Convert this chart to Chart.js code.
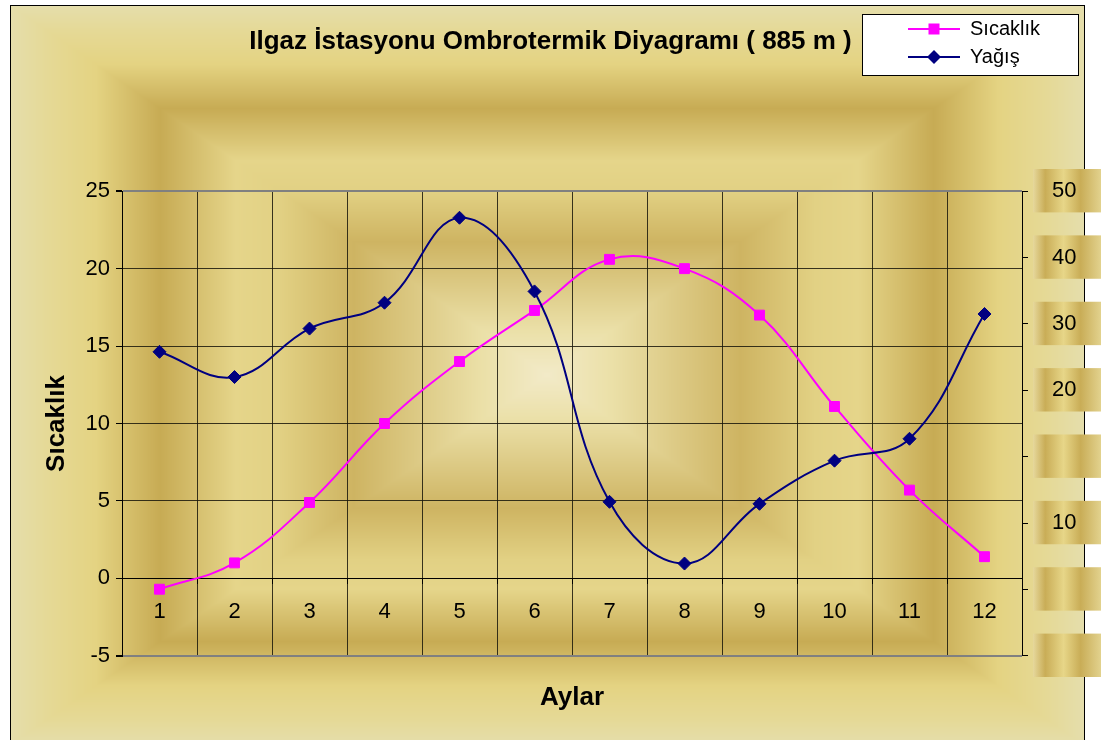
<!DOCTYPE html>
<html><head><meta charset="utf-8">
<script src="https://cdn.jsdelivr.net/npm/chart.js@4/dist/chart.umd.min.js"></script>
<style>html,body{margin:0;padding:0;background:#fff}#wrap{width:1101px;height:740px;position:relative}</style>
</head><body><div id="wrap"><canvas id="c"></canvas></div>
<script>
// ---- data ----
const chartTitle = 'Ilgaz İstasyonu Ombrotermik Diyagramı ( 885 m )';
const xTitle = 'Aylar';
const yTitle = 'Sıcaklık';
const seriesNames = ['Sıcaklık', 'Yağış'];
const months = ['1','2','3','4','5','6','7','8','9','10','11','12'];
const sicaklik = [-0.7, 1.0, 4.9, 10.0, 14.0, 17.3, 20.6, 20.0, 17.0, 11.1, 5.7, 1.4];
const yagis = [25.8, 22.0, 29.3, 33.2, 46.0, 34.9, 3.2, -6.1, 2.9, 9.4, 12.7, 31.5];
const rightTickValues = [50, 40, 30, 20, 10, 0, -10, -20];
const rightTickLabels = ['50', '40', '30', '20', '', '10', '', ''];

// ---- styling helpers ----
Chart.defaults.font.family = "'Liberation Sans', Arial, sans-serif";
const W = 1101, H = 740;
const cv = document.getElementById('c');
const bgStops = [[0,[242,234,200]],[0.12,[235,224,168]],[0.36,[206,180,98]],[0.5,[226,209,132]],[0.58,[229,213,138]],[0.72,[199,171,84]],[0.84,[228,211,130]],[0.93,[229,217,150]],[1,[229,222,172]]];
function bgColor(d){
  for (let i=1;i<bgStops.length;i++){
    if (d <= bgStops[i][0]) {
      const a = bgStops[i-1], b = bgStops[i];
      const t = (d - a[0])/(b[0]-a[0]);
      return [0,1,2].map(k => a[1][k] + (b[1][k]-a[1][k])*t);
    }
  }
  return bgStops[bgStops.length-1][1];
}
const bgCanvas = (function(){
  const c = document.createElement('canvas'); c.width = W; c.height = H;
  const g = c.getContext('2d'); const img = g.createImageData(W, H);
  const x0=10, y0=5, x1=1084, y1=745, cx=(x0+x1)/2, cy=(y0+y1)/2, hw=(x1-x0)/2, hh=(y1-y0)/2;
  for (let y=0;y<H;y++) for (let x=0;x<W;x++){
    const p=(y*W+x)*4; let col;
    if (x<x0 || x>x1 || y<y0) col=[255,255,255];
    else col = bgColor(Math.max(Math.abs(x+0.5-cx)/hw, Math.abs(y+0.5-cy)/hh));
    img.data[p]=col[0]; img.data[p+1]=col[1]; img.data[p+2]=col[2]; img.data[p+3]=255;
  }
  g.putImageData(img,0,0);
  g.fillStyle='#000';
  g.fillRect(10,5,1,H); g.fillRect(10,5,1075,1); g.fillRect(1084,5,1,H);
  return c;
})();
function legendIcon(color, shape){
  const c=document.createElement('canvas'); c.width=52; c.height=20;
  const g=c.getContext('2d'); g.strokeStyle=color; g.lineWidth=2;
  g.beginPath(); g.moveTo(0,10); g.lineTo(52,10); g.stroke();
  g.fillStyle=color;
  if (shape==='rect') g.fillRect(20.5,4.5,11,11);
  else { g.beginPath(); g.moveTo(26,3); g.lineTo(33,10); g.lineTo(26,17); g.lineTo(19,10); g.closePath(); g.fill(); }
  return c;
}
const icons = [legendIcon('#ff00ff','rect'), legendIcon('#000080','diamond')];
// backdrop is drawn in the label's translated space (label x = 1052)
const boxGrad = cv.getContext('2d').createLinearGradient(-19,0,49,0);
boxGrad.addColorStop(0,'#e6d89c'); boxGrad.addColorStop(0.18,'#c9ad57');
boxGrad.addColorStop(0.45,'#e7d688'); boxGrad.addColorStop(0.7,'#c9ad57'); boxGrad.addColorStop(1,'#e2d28e');

const bgPlugin = {
  id: 'bgPlugin',
  afterLayout(chart){
    const L = chart.legend;
    if (L){ L.left=900; L.top=11; L.right=1078; L.bottom=75; L.width=178; L.height=64; }
  },
  beforeDraw(chart){
    const ctx = chart.ctx; ctx.save();
    ctx.drawImage(bgCanvas,0,0);
    ctx.fillStyle='#fff'; ctx.fillRect(862,14,216,61);
    ctx.strokeStyle='#000'; ctx.lineWidth=1; ctx.strokeRect(862.5,14.5,216,61);
    ctx.restore();
  }
};

new Chart(cv, {
  type: 'line',
  data: {
    labels: months,
    datasets: [
      { label: seriesNames[0], data: sicaklik, yAxisID: 'y', borderColor: '#ff00ff', backgroundColor: '#ff00ff',
        borderWidth: 2, pointStyle: 'rect', pointRadius: 7, pointBorderWidth: 1, tension: 0.4, order: 1 },
      { label: seriesNames[1], data: yagis, yAxisID: 'y2', borderColor: '#000080', backgroundColor: '#000080',
        borderWidth: 2, pointStyle: 'rectRot', pointRadius: 6.5, pointBorderWidth: 1, tension: 0.4, order: 0 }
    ]
  },
  options: {
    responsive: true, maintainAspectRatio: false, animation: false,
    layout: { padding: 0 },
    events: [],
    scales: {
      x: {
        type: 'category', position: { y: 0 }, offset: true,
        grid: { offset: true, color: 'rgba(25,22,10,0.85)', tickColor: '#000', tickLength: 5 },
        border: { color: '#000', width: 1 },
        ticks: { padding: 15, font: { size: 22 }, color: '#000', autoSkip: false, maxRotation: 0 }
      },
      y: {
        position: 'left', min: -5, max: 25,
        ticks: { stepSize: 5, padding: 6, font: { size: 22 }, color: '#000' },
        grid: {
          color: c => (c.tick && (c.tick.value === 25 || c.tick.value === -5)) ? '#808080' : 'rgba(25,22,10,0.85)',
          lineWidth: c => (c.tick && (c.tick.value === 25 || c.tick.value === -5)) ? 2 : 1,
          tickColor: '#000', tickLength: 6
        },
        border: { color: '#000', width: 1 },
        title: { display: true, text: yTitle, font: { size: 26, weight: 'bold' }, color: '#000', padding: { top: 41, bottom: 0 } },
        afterFit(s){ s.width = 122; }
      },
      y2: {
        position: 'right', min: -20, max: 50,
        ticks: {
          stepSize: 10, autoSkip: false, padding: 24, font: { size: 22 }, color: '#000',
          showLabelBackdrop: true, backdropColor: boxGrad,
          backdropPadding: { top: 9, bottom: 8, left: 19, right: 70 },
          callback: v => { const i = rightTickValues.indexOf(v); return i >= 0 ? (rightTickLabels[i] || ' ') : ' '; }
        },
        grid: { drawOnChartArea: false, color: '#000', tickLength: 6 },
        border: { color: '#000', width: 1 },
        afterFit(s){ s.width = 79; }
      }
    },
    plugins: {
      tooltip: { enabled: false },
      title: { display: true, text: chartTitle, position: 'top', font: { size: 26, weight: 'bold' }, color: '#000',
               padding: { top: 26, bottom: 134 } },
      subtitle: { display: true, text: xTitle, position: 'bottom', fullSize: false, font: { size: 26, weight: 'bold' }, color: '#000',
               padding: { top: 26, bottom: 27 } },
      legend: {
        position: 'chartArea', align: 'start',
        labels: {
          usePointStyle: true, pointStyleWidth: 52, boxHeight: 20, padding: 8, font: { size: 20 }, color: '#000',
          sort: (a, b) => a.datasetIndex - b.datasetIndex,
          generateLabels(chart){
            const items = Chart.defaults.plugins.legend.labels.generateLabels(chart);
            items.forEach(it => { it.pointStyle = icons[it.datasetIndex]; it.fontColor = '#000'; });
            return items;
          }
        }
      }
    }
  },
  plugins: [bgPlugin]
});
</script></body></html>
